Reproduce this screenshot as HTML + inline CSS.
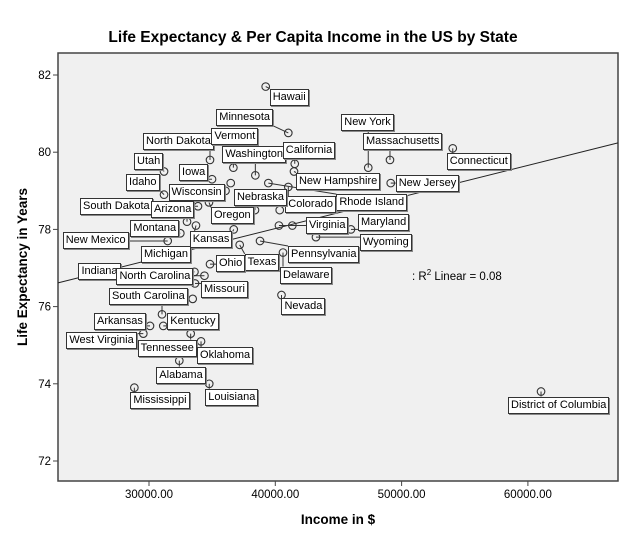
<!DOCTYPE html>
<html><head><meta charset="utf-8"><style>
body{margin:0;background:#fff;}
#wrap{position:relative;width:626px;height:541px;overflow:hidden;font-family:"Liberation Sans",Arial,sans-serif;}
svg{position:absolute;left:0;top:0;}
.lbl{position:absolute;background:#fff;border:1px solid #333;box-shadow:1px 1px 0 #888;font-size:11px;line-height:15px;padding:0 2px;white-space:nowrap;color:#000;}
</style></head><body>
<div id="wrap">
<svg id="svg" width="626" height="541"></svg>
</div>
<script>
const states=["Hawaii","Minnesota","North Dakota","Vermont","Washington","Utah","Iowa","Idaho","California","New York","Massachusetts","Connecticut","New Jersey","New Hampshire","Rhode Island","Colorado","Maine","Wisconsin","South Dakota","Oregon","Nebraska","Alaska","Arizona","Michigan","Montana","New Mexico","Kansas","Virginia","Illinois","Wyoming","Maryland","Texas","Pennsylvania","Delaware","Ohio","Indiana","North Carolina","Missouri","Georgia","Nevada","South Carolina","Arkansas","Kentucky","West Virginia","Tennessee","Oklahoma","Alabama","Mississippi","Louisiana","District of Columbia"];
const income=[39240,41030,34830,36680,38420,31190,34990,31190,41540,47360,49080,54050,49140,41480,39450,41030,36470,36060,33880,34750,38390,40350,33010,33720,32480,31480,36710,40290,41350,43220,45990,37180,38790,40610,34830,33600,34390,33640,33460,40490,31030,30080,31130,29550,33300,34120,32400,28840,34770,61040];
const lifeExp=[81.7,80.5,79.8,79.6,79.4,79.5,79.3,78.9,79.7,79.6,79.8,80.1,79.2,79.5,79.2,79.1,79.2,79.0,78.6,78.7,78.5,78.5,78.2,78.1,77.9,77.7,78.0,78.1,78.1,77.8,78.0,77.6,77.7,77.4,77.1,76.9,76.8,76.6,76.2,76.3,75.8,75.5,75.5,75.3,75.3,75.1,74.6,73.9,74.0,73.8];
const showLabel=[1,1,1,1,1,1,1,1,1,1,1,1,1,1,1,1,0,1,1,1,1,0,1,1,1,1,1,1,0,1,1,1,1,1,1,1,1,1,0,1,1,1,1,1,1,1,1,1,1,1];
const xTicks=[30000,40000,50000,60000];
const yTicks=[72,74,76,78,80,82];
// fit line coefficients (intercept, slope per $)
const fitCoef=[74.75,0.0000818];
// label box offsets (layout, px relative to point)
const labelDX=[4,-72,-67,-22,-33,-30,-33,-38,-12,-27,-27,-6,5,2,68,-3,0,-57,-118,2,-21,0,-36,-55,-50,-105,-44,27,0,44,7,5,28,-3,6,-116,-88,6,0,0,-53,-56,4,-77,-53,-4,-23,-4,-4,-33];
const labelDY=[2,-24,-27,-40,-29,-19,-15,-21,-22,-54,-27,5,-8,1,11,9,0,-7,-8,5,-21,0,-21,20,-13,-9,2,-9,0,-3,-15,9,5,14,-9,-9,-8,-2,0,3,-26,-13,-13,-2,6,6,6,4,5,5];

const L=58,R=618,T=53,B=481;
const X=v=>149+(v-30000)*0.01263;
const Y=v=>75+(82-v)*38.6;
const NS="http://www.w3.org/2000/svg";
const svg=document.getElementById('svg');
const wrap=document.getElementById('wrap');
function mk(tag,attrs,parent){const e=document.createElementNS(NS,tag);for(const k in attrs)e.setAttribute(k,attrs[k]);(parent||svg).appendChild(e);return e;}

const bg=mk('rect',{x:L,y:T,width:R-L,height:B-T,fill:'#f0f0f0',stroke:'#444','stroke-width':1.5});



const title=mk('text',{x:313,y:42,'text-anchor':'middle','font-size':15.5,'font-weight':'bold'});
title.textContent='Life Expectancy & Per Capita Income in the US by State';



const xt=mk('text',{x:338,y:524,'text-anchor':'middle','font-size':13.5,'font-weight':'bold'});
xt.textContent='Income in $';



const yt=mk('text',{x:0,y:0,'text-anchor':'middle','font-size':13.5,'font-weight':'bold',transform:'translate(27,267) rotate(-90)'});
yt.textContent='Life Expectancy in Years';



xTicks.forEach(v=>{
  const t=mk('line',{x1:X(v),x2:X(v),y1:B,y2:B+5,stroke:'#444','stroke-width':1});
  
  
  const s=mk('text',{x:X(v),y:B+17,'text-anchor':'middle','font-size':11.5});
  s.textContent=v.toFixed(2);
  
  
});
yTicks.forEach(v=>{
  const t=mk('line',{x1:L-5,x2:L,y1:Y(v),y2:Y(v),stroke:'#444','stroke-width':1});
  
  
  const s=mk('text',{x:L-7,y:Y(v)+4,'text-anchor':'end','font-size':11.5});
  s.textContent=v;
  
  
});

const n=income.length;
const xmin=30000+(L-149)/0.01263, xmax=30000+(R-149)/0.01263;
const fit=mk('line',{x1:L,y1:Y(fitCoef[0]+fitCoef[1]*xmin),x2:R,y2:Y(fitCoef[0]+fitCoef[1]*xmax),stroke:'#222','stroke-width':1});



const gLines=mk('g',{});
const gPts=mk('g',{});
for(let i=0;i<n;i++){
  const px=X(income[i]),py=Y(lifeExp[i]);
  const c=mk('circle',{cx:px,cy:py,r:3.8,fill:'none',stroke:'#333','stroke-width':1.1},gPts);
  
  
  if(showLabel[i]){
    const d=document.createElement('div');
    d.className='lbl';
    d.textContent=states[i];
    d.style.left=(px+labelDX[i])+'px';
    d.style.top=(py+labelDY[i])+'px';
    
    
    wrap.appendChild(d);
    const w=d.offsetWidth,h=d.offsetHeight;
    const bx=px+labelDX[i],by=py+labelDY[i];
    const tx=Math.max(bx,Math.min(px,bx+w)), ty=Math.max(by,Math.min(py,by+h));
    const ln=mk('line',{x1:px,y1:py,x2:tx,y2:ty,stroke:'#333','stroke-width':1},gLines);
    
    
  }
}

const r2=document.createElement('div');
r2.style.cssText='position:absolute;left:412px;top:268px;font-size:11.5px;';
r2.innerHTML=': R<sup style="font-size:8px">2</sup> Linear = 0.08';


wrap.appendChild(r2);
</script>
</body></html>
